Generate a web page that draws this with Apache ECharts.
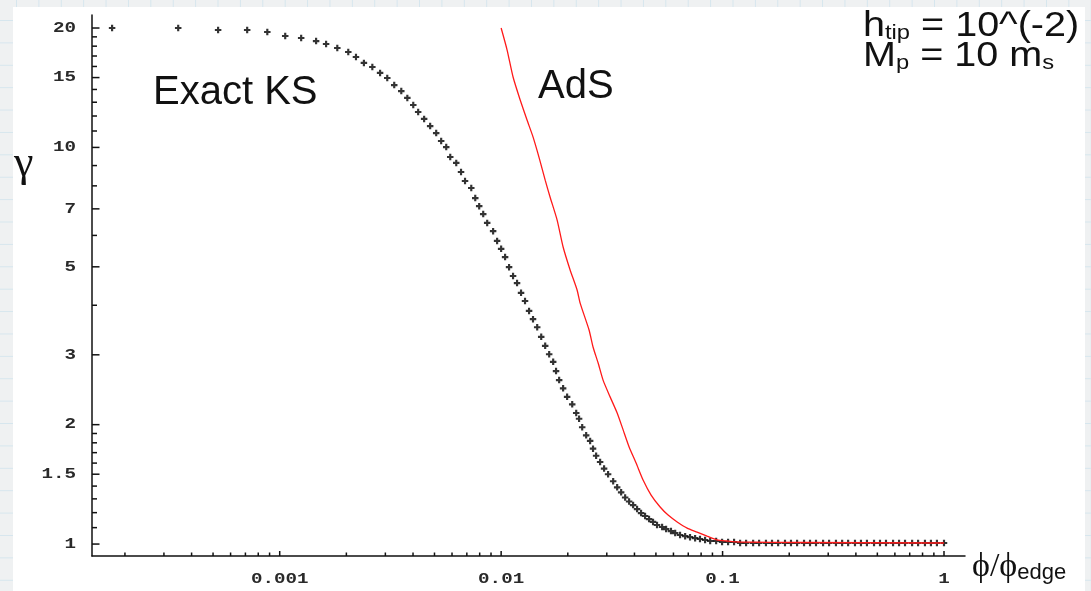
<!DOCTYPE html>
<html>
<head>
<meta charset="utf-8">
<title>gamma vs phi/phi_edge</title>
<script src="https://cdn.jsdelivr.net/npm/echarts@6/dist/echarts.min.js"></script>
<style>
html, body { margin: 0; padding: 0; }
body {
  width: 1091px; height: 591px; overflow: hidden; position: relative;
  background-color: #eff1f2;
  background-image: linear-gradient(#d6e6ee 1px, transparent 1px),
                    linear-gradient(90deg, #d6e6ee 1px, transparent 1px);
  background-size: 22.4px 22.4px;
  background-position: 16px 20px;
}
#panel { position: absolute; left: 13px; top: 7px; width: 1072px; height: 584px; background: #fff; }
#main { position: absolute; left: 0; top: 0; width: 1091px; height: 591px; }
</style>
</head>
<body>
<div id="panel"></div>
<div id="main"></div>
<script>
// axis ranges (log scales)
var X_MIN = 1.42e-4, X_MAX = 1.244;
var Y_MIN = 0.933, Y_MAX = 21.57;

// Exact KS (black crosses)
var ksX = [0.000175,0.000348,0.000527,0.000713,0.000879,0.001059,0.00125,0.00146,0.00162,0.00182,
  0.00204,0.00221,0.0024,0.00262,0.00284,0.00306,0.00329,0.00354,0.00377,0.00401,
  0.00422,0.00449,0.00478,0.00509,0.00536,0.00565,0.00589,0.00627,0.00659,0.00687,
  0.00733,0.00764,0.00796,0.0083,0.00865,0.0092,0.00959,0.01,0.01042,0.01086,
  0.01132,0.0118,0.0123,0.01282,0.01337,0.01393,0.01455,0.01517,0.01581,0.01648,
  0.01718,0.0177,0.01828,0.01905,0.01986,0.02094,0.02183,0.02249,0.02323,0.02421,
  0.02523,0.026,0.02685,0.02799,0.02917,0.03041,0.03206,0.03342,0.03483,0.03631,
  0.03784,0.03945,0.04111,0.04285,0.04467,0.04656,0.04853,0.05058,0.05333,0.05559,
  0.05848,0.06109,0.06427,0.06776,0.07129,0.07516,0.07907,0.08337,0.0879,0.09354,
  0.0995,0.1059,0.1127,0.12,0.1277,0.1374,0.1462,0.157,0.1672,0.1782,
  0.1914,0.2037,0.217,0.2333,0.2483,0.2642,0.2844,0.3027,0.3251,0.3467,
  0.369,0.3963,0.4217,0.4487,0.4831,0.514,0.547,0.5888,0.6266,0.6668,
  0.7178,0.7638,0.8204,0.873,0.929,1.0];
var ksY = [20.0,20.0,19.77,19.77,19.54,19.09,18.87,18.54,18.23,17.81,
  17.40,16.90,16.33,15.95,15.41,14.96,14.36,13.87,13.33,12.79,
  12.28,11.80,11.32,10.87,10.38,10.02,9.46,9.14,8.67,8.23,
  7.90,7.45,7.11,6.79,6.45,6.15,5.81,5.55,5.29,4.99,
  4.74,4.55,4.30,4.10,3.87,3.69,3.52,3.33,3.16,3.01,
  2.88,2.73,2.59,2.47,2.35,2.25,2.14,2.07,1.97,1.88,
  1.82,1.74,1.67,1.61,1.55,1.50,1.44,1.39,1.35,1.31,
  1.28,1.254,1.225,1.197,1.177,1.156,1.137,1.117,1.104,1.091,
  1.078,1.066,1.054,1.047,1.041,1.035,1.030,1.024,1.018,1.018,
  1.012,1.012,1.012,1.006,1.006,1.006,1.006,1.006,1.006,1.006,
  1.006,1.006,1.006,1.006,1.006,1.006,1.006,1.006,1.006,1.006,
  1.006,1.006,1.006,1.006,1.006,1.006,1.006,1.006,1.006,1.006,
  1.006,1.006,1.006,1.006,1.006,1.006];

// AdS (red line)
var adsX = [0.01,0.01064,0.01132,0.01219,0.01309,0.01393,0.01486,0.01581,0.01663,0.0179,
  0.01905,0.02049,0.02203,0.02274,0.02497,0.026,0.02742,0.02886,0.03105,0.03342,
  0.03556,0.03784,0.04069,0.04375,0.04756,0.05224,0.05675,0.06237,0.06918,0.07674,
  0.08511,0.09441,0.1047,0.12,0.2239,1.0];
var adsY = [20.0,17.6,15.05,13.17,11.72,10.63,9.40,8.27,7.50,6.56,
  5.61,4.91,4.37,4.05,3.46,3.14,2.86,2.59,2.35,2.14,
  1.94,1.757,1.60,1.45,1.329,1.24,1.183,1.137,1.097,1.072,
  1.047,1.024,1.018,1.012,1.009,1.006];

// ticks
var yMajor = [1, 1.5, 2, 3, 5, 7, 10, 15, 20];
var yMajorLabels = ['1', '1.5', '2', '3', '5', '7', '10', '15', '20'];
var yMinor = [1.1, 1.2, 1.3, 1.4, 1.6, 1.7, 1.8, 1.9, 4, 6, 8, 9, 11, 12, 13, 14, 16, 17, 18, 19];
var xMajor = [0.001, 0.01, 0.1, 1];
var xMajorLabels = ['0.001', '0.01', '0.1', '1'];
var xMinor = [2e-4, 3e-4, 4e-4, 5e-4, 6e-4, 7e-4, 8e-4, 9e-4,
  0.002, 0.003, 0.004, 0.005, 0.006, 0.007, 0.008, 0.009,
  0.02, 0.03, 0.04, 0.05, 0.06, 0.07, 0.08, 0.09,
  0.2, 0.3, 0.4, 0.5, 0.6, 0.7, 0.8, 0.9];

var ksData = ksX.map(function (x, i) { return [x, ksY[i]]; });
var adsData = adsX.map(function (x, i) { return [x, adsY[i]]; });

var yTickData = yMajor.map(function (v) { return [X_MIN, v, 1]; })
  .concat(yMinor.map(function (v) { return [X_MIN, v, 0]; }));
var xTickData = xMajor.map(function (v) { return [v, Y_MIN, 1]; })
  .concat(xMinor.map(function (v) { return [v, Y_MIN, 0]; }));

var INK = '#111';
// Mathematica-ish courier tick labels, a bit wide
function tickLabel(txt, x, y, align) {
  return {
    type: 'text', x: x, y: y, scaleX: 1.28, scaleY: 1,
    style: { text: txt, fontFamily: 'Liberation Mono', fontSize: 15, fontWeight: 'bold', fill: '#2a2a2a',
      align: align, textAlign: align, verticalAlign: 'middle', textVerticalAlign: 'middle' }
  };
}

function yTick(params, api) {
  var p = api.coord([api.value(0), api.value(1)]);
  var major = api.value(2) === 1;
  var kids = [{
    type: 'line',
    shape: { x1: p[0], y1: p[1], x2: p[0] + (major ? 7.5 : 5), y2: p[1] },
    style: { stroke: INK, lineWidth: 1.5 }
  }];
  if (major) kids.push(tickLabel(yMajorLabels[params.dataIndex], p[0] - 16, p[1], 'right'));
  return { type: 'group', children: kids };
}

function xTick(params, api) {
  var p = api.coord([api.value(0), api.value(1)]);
  var major = api.value(2) === 1;
  var kids = [{
    type: 'line',
    shape: { x1: p[0], y1: p[1], x2: p[0], y2: p[1] - (major ? 5 : 3.5) },
    style: { stroke: INK, lineWidth: 1.5 }
  }];
  if (major) kids.push(tickLabel(xMajorLabels[params.dataIndex], p[0], p[1] + 23, 'center'));
  return { type: 'group', children: kids };
}

var myChart = echarts.init(document.getElementById('main'), null, { renderer: 'canvas' });

var option = {
  animation: false,
  backgroundColor: 'transparent',
  grid: { left: 92, top: 15, width: 873, height: 541 },
  xAxis: {
    type: 'log', logBase: 10, min: X_MIN, max: X_MAX,
    axisLine: { onZero: false, lineStyle: { color: INK, width: 1.5 } },
    axisTick: { show: false }, axisLabel: { show: false },
    splitLine: { show: false }, minorTick: { show: false }
  },
  yAxis: {
    type: 'log', logBase: 10, min: Y_MIN, max: Y_MAX,
    axisLine: { onZero: false, lineStyle: { color: INK, width: 1.5 } },
    axisTick: { show: false }, axisLabel: { show: false },
    splitLine: { show: false }, minorTick: { show: false }
  },
  graphic: [
    { type: 'text', left: 14, top: 142,
      style: { text: 'γ', fontFamily: 'Liberation Serif', fontSize: 44, fill: '#111' } },
    { type: 'text', x: 153, y: 93,
      style: { text: 'Exact KS', fontFamily: 'Liberation Sans', fontSize: 40, fill: '#111',
        verticalAlign: 'middle', textVerticalAlign: 'middle' } },
    { type: 'text', x: 538, y: 87,
      style: { text: 'AdS', fontFamily: 'Liberation Sans', fontSize: 40, fill: '#111',
        verticalAlign: 'middle', textVerticalAlign: 'middle' } },
    { type: 'text', x: 863, y: 14, scaleX: 1.13, scaleY: 1,
      style: {
        text: '{b|h}{s|tip}{b| = 10^(-2)}\n{b|M}{s|p}{b| = 10 m}{s|s}',
        fill: '#111', lineHeight: 30,
        rich: {
          b: { fontFamily: 'Liberation Sans', fontSize: 35, fill: '#111', verticalAlign: 'bottom', lineHeight: 30 },
          s: { fontFamily: 'Liberation Sans', fontSize: 21, fill: '#111', verticalAlign: 'bottom', lineHeight: 26 }
        }
      } },
    { type: 'text', x: 972, y: 550,
      style: {
        text: '{p|ϕ/ϕ}{e|edge}',
        fill: '#111',
        rich: {
          p: { fontFamily: 'Liberation Serif', fontSize: 34, fill: '#111', verticalAlign: 'bottom' },
          e: { fontFamily: 'Liberation Sans', fontSize: 22, fill: '#111', verticalAlign: 'bottom' }
        }
      } }
  ],
  series: [
    {
      name: 'Exact KS', type: 'scatter', data: ksData, silent: true,
      symbol: 'path://M2,0L4,0L4,2L6,2L6,4L4,4L4,6L2,6L2,4L0,4L0,2L2,2Z',
      symbolSize: 6.5, itemStyle: { color: '#000' }, z: 3
    },
    {
      name: 'AdS', type: 'line', data: adsData, silent: true, showSymbol: false, smooth: 0.2,
      lineStyle: { color: '#ff1a1a', width: 1.3 }, z: 4
    },
    { type: 'custom', renderItem: yTick, data: yTickData, clip: false, silent: true, z: 5 },
    { type: 'custom', renderItem: xTick, data: xTickData, clip: false, silent: true, z: 5 }
  ]
};

myChart.setOption(option);
</script>
</body>
</html>
